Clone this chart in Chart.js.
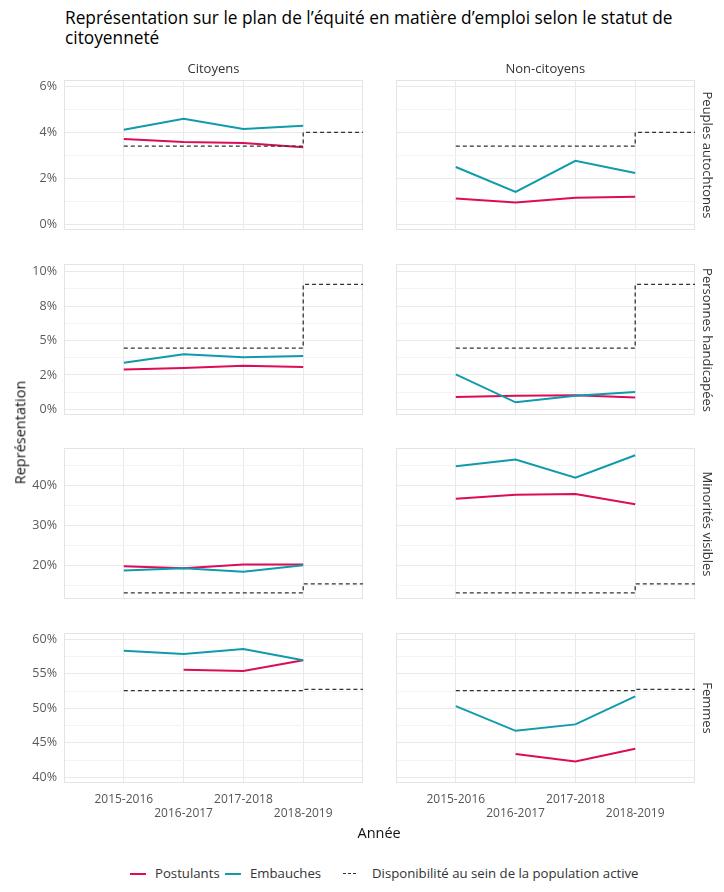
<!DOCTYPE html>
<html lang="fr">
<head>
<meta charset="utf-8">
<script src="https://cdn.jsdelivr.net/npm/chart.js@4.4.1/dist/chart.umd.min.js"></script>
<style>
  body { margin: 0; width: 724px; height: 892px; background: #fff; position: relative; overflow: hidden;
         font-family: 'Open Sans', 'Noto Sans', sans-serif; }
  .abs { position: absolute; white-space: nowrap; font-weight: 400; }
  canvas { position: absolute; }
  #title { left: 65px; top: 8px; font-size: 17.3px; line-height: 20px; color: #000; }
  .strip { font-size: 13px; color: #333; }
  .rot { transform-origin: center center; }
  .legend { top: 864px; font-size: 13.2px; color: #333; line-height: 18px; }
  .swatch { position: absolute; top: 873px; width: 16px; height: 0; }
</style>
</head>
<body>
<div id="title" class="abs">Représentation sur le plan de l’équité en matière d’emploi selon le statut de<br>citoyenneté</div>

<script>
// --- données ---------------------------------------------------------------
const years = ['2015-2016', '2016-2017', '2017-2018', '2018-2019'];
const statuts = ['Citoyens', 'Non-citoyens'];
const groupes = ['Peuples autochtones', 'Personnes handicapées', 'Minorités visibles', 'Femmes'];

// Peuples autochtones (%)
const postAutochCit = [3.71, 3.58, 3.54, 3.35];
const embAutochCit = [4.12, 4.60, 4.15, 4.29];
const postAutochNon = [1.12, 0.94, 1.15, 1.19];
const embAutochNon = [2.49, 1.40, 2.76, 2.23];
const dispoAutoch = [3.40, 3.40, 3.40, 4.00];

// Personnes handicapées (%)
const postHandiCit = [2.90, 3.00, 3.17, 3.07];
const embHandiCit = [3.39, 4.00, 3.78, 3.87];
const postHandiNon = [0.89, 0.99, 1.02, 0.87];
const embHandiNon = [2.54, 0.51, 0.99, 1.26];
const dispoHandi = [4.45, 4.45, 4.45, 9.08];

// Minorités visibles (%)
const postMinoCit = [19.9, 19.4, 20.3, 20.3];
const embMinoCit = [18.8, 19.4, 18.5, 20.1];
const postMinoNon = [36.7, 37.7, 37.9, 35.35];
const embMinoNon = [44.85, 46.5, 42.0, 47.6];
const dispoMino = [13.25, 13.25, 13.25, 15.5];

// Femmes (%)
const postFemCit = [null, 55.6, 55.4, 56.96];
const embFemCit = [58.35, 57.87, 58.6, 56.96];
const postFemNon = [null, 43.38, 42.32, 44.14];
const embFemNon = [50.33, 46.75, 47.68, 51.74];
const dispoFem = [52.55, 52.55, 52.55, 52.75];

// graduations de l'axe y par rangée
const majorAutoch = [0, 2, 4, 6];
const minorAutoch = [1, 3, 5];
const majorHandi = [0, 2.5, 5, 7.5, 10];
const minorHandi = [1.25, 3.75, 6.25, 8.75];
const majorMino = [20, 30, 40];
const minorMino = [15, 25, 35, 45];
const majorFem = [40, 45, 50, 55, 60];
const minorFem = [42.5, 47.5, 52.5, 57.5];

const legendLabels = ['Postulants', 'Embauches', 'Disponibilité au sein de la population active'];

// --- mise en page ----------------------------------------------------------
const RED = '#dc0c58';
const TEAL = '#0f9bac';
const DASH = '#333333';

const rowTop = [80, 264, 448, 633];
const rowH = [150, 151, 151, 150];
const colX = [64, 396];
const colW = 299;
const yLimits = [[-0.26, 6.29], [-0.41, 10.56], [11.7, 49.4], [39.2, 60.9]];

const rows = [
  { major: majorAutoch, minor: minorAutoch, dispo: dispoAutoch,
    post: [postAutochCit, postAutochNon], emb: [embAutochCit, embAutochNon] },
  { major: majorHandi, minor: minorHandi, dispo: dispoHandi,
    post: [postHandiCit, postHandiNon], emb: [embHandiCit, embHandiNon] },
  { major: majorMino, minor: minorMino, dispo: dispoMino,
    post: [postMinoCit, postMinoNon], emb: [embMinoCit, embMinoNon] },
  { major: majorFem, minor: minorFem, dispo: dispoFem,
    post: [postFemCit, postFemNon], emb: [embFemCit, embFemNon] }
];

// arrondi comme R (au pair le plus proche)
function roundHalfEven(v) {
  const f = Math.floor(v);
  const d = v - f;
  if (Math.abs(d - 0.5) < 1e-9) return f % 2 === 0 ? f : f + 1;
  return Math.round(v);
}

const panelBorder = {
  id: 'panelBorder',
  beforeDatasetsDraw(chart) {
    const { ctx, chartArea: a } = chart;
    ctx.save();
    ctx.strokeStyle = '#e4e4e4';
    ctx.lineWidth = 1;
    ctx.strokeRect(a.left + 0.5, a.top + 0.5, a.width - 1, a.height - 1);
    ctx.restore();
  }
};

function toPoints(values) {
  return values.map((v, i) => ({ x: i + 1, y: v }));
}

function makePanel(r, c) {
  const row = rows[r];
  const bottom = r === rows.length - 1;
  const padT = 8, padB = 8, xAxisH = bottom ? 40 : 0;
  const canvas = document.createElement('canvas');
  const left = c === 0 ? 0 : colX[1] - 6;
  const width = c === 0 ? colX[0] + colW + 7 : colW + 12;
  const height = rowH[r] + padT + padB + xAxisH;
  canvas.width = width;
  canvas.height = height;
  canvas.style.left = left + 'px';
  canvas.style.top = (rowTop[r] - padT) + 'px';
  document.body.appendChild(canvas);

  // disponibilité : on prolonge la dernière valeur jusqu'au bord du panneau
  const dispoPts = toPoints(row.dispo.concat([row.dispo[row.dispo.length - 1]]));

  new Chart(canvas.getContext('2d'), {
    type: 'line',
    data: {
      datasets: [
        { label: legendLabels[2], data: dispoPts, borderColor: DASH, borderWidth: 1.3,
          borderDash: [4, 3], stepped: true, pointRadius: 0 },
        { label: legendLabels[1], data: toPoints(row.emb[c]), borderColor: TEAL, borderWidth: 2,
          pointRadius: 0, tension: 0 },
        { label: legendLabels[0], data: toPoints(row.post[c]), borderColor: RED, borderWidth: 2,
          pointRadius: 0, tension: 0 }
      ]
    },
    options: {
      responsive: false,
      animation: false,
      devicePixelRatio: 1,
      layout: { padding: { top: padT, bottom: padB, left: c === 0 ? 0 : 6, right: c === 0 ? 7 : 6 } },
      plugins: { legend: { display: false }, tooltip: { enabled: false } },
      scales: {
        x: {
          type: 'linear', min: 0, max: 5,
          border: { display: false },
          grid: {
            drawTicks: false,
            color: (ctx) => (ctx.tick && ctx.tick.value >= 1 && ctx.tick.value <= 4) ? '#e9e9e9' : 'rgba(0,0,0,0)'
          },
          afterBuildTicks: (scale) => { scale.ticks = [0, 1, 2, 3, 4, 5].map(v => ({ value: v })); },
          afterFit: (scale) => {
            scale.height = xAxisH;
            scale.paddingLeft = 0; scale.paddingRight = 0;
          },
          ticks: {
            display: bottom,
            autoSkip: false, maxRotation: 0, padding: 9,
            color: '#555', font: { family: "'Open Sans', sans-serif", size: 12 },
            callback: (v) => {
              if (v < 1 || v > 4) return '';
              const label = years[v - 1];
              return v % 2 === 1 ? [label] : ['', label];
            }
          }
        },
        y: {
          min: yLimits[r][0], max: yLimits[r][1],
          border: { display: false },
          grid: {
            drawTicks: false,
            color: (ctx) => row.major.includes(ctx.tick.value) ? '#e9e9e9' : '#f4f4f4'
          },
          afterBuildTicks: (scale) => {
            scale.ticks = row.major.concat(row.minor).sort((a, b) => a - b).map(v => ({ value: v }));
          },
          afterFit: (scale) => {
            scale.width = c === 0 ? colX[0] : 0;
            scale.paddingTop = 0; scale.paddingBottom = 0;
          },
          ticks: {
            display: c === 0,
            padding: 7,
            color: '#5a5a5a', font: { family: "'Open Sans', sans-serif", size: 12.5 },
            callback: (v) => row.major.includes(v) ? roundHalfEven(v) + '%' : ''
          }
        }
      }
    },
    plugins: [panelBorder]
  });
}

for (let r = 0; r < rows.length; r++) {
  for (let c = 0; c < statuts.length; c++) makePanel(r, c);
}

// --- textes : bandeaux, titres d'axes, légende -----------------------------
function addText(text, cls, style) {
  const d = document.createElement('div');
  d.className = 'abs ' + cls;
  d.textContent = text;
  Object.assign(d.style, style);
  document.body.appendChild(d);
  return d;
}

statuts.forEach((s, c) => {
  const d = addText(s, 'strip', { top: '59px' });
  d.style.left = (colX[c] + colW / 2 - d.offsetWidth / 2) + 'px';
});

groupes.forEach((g, r) => {
  const d = addText(g, 'strip rot', {});
  const cy = rowTop[r] + rowH[r] / 2;
  d.style.left = (708 - d.offsetWidth / 2) + 'px';
  d.style.top = (cy - d.offsetHeight / 2) + 'px';
  d.style.transform = 'rotate(90deg)';
});

const yTitle = addText('Représentation', '', { fontSize: '14.5px', color: '#111' });
yTitle.style.left = (20 - yTitle.offsetWidth / 2) + 'px';
yTitle.style.top = (432 - yTitle.offsetHeight / 2) + 'px';
yTitle.style.transform = 'rotate(-90deg)';

const xTitle = addText('Année', '', { fontSize: '14.5px', color: '#111' });
xTitle.style.left = (379 - xTitle.offsetWidth / 2) + 'px';
xTitle.style.top = (832 - xTitle.offsetHeight / 2) + 'px';

// légende
const legendItems = [
  { color: RED, dash: false, lineX: 130, textX: 155 },
  { color: TEAL, dash: false, lineX: 225, textX: 250 },
  { color: DASH, dash: true, lineX: 343, textX: 372 }
];
legendItems.forEach((it, i) => {
  const sw = document.createElement('div');
  sw.className = 'swatch';
  sw.style.left = it.lineX + 'px';
  sw.style.borderTop = it.dash ? '1.3px dashed ' + it.color : '2px solid ' + it.color;
  if (it.dash) sw.style.width = '13px';
  document.body.appendChild(sw);
  addText(legendLabels[i], 'legend', { left: it.textX + 'px' });
});
</script>
</body>
</html>
